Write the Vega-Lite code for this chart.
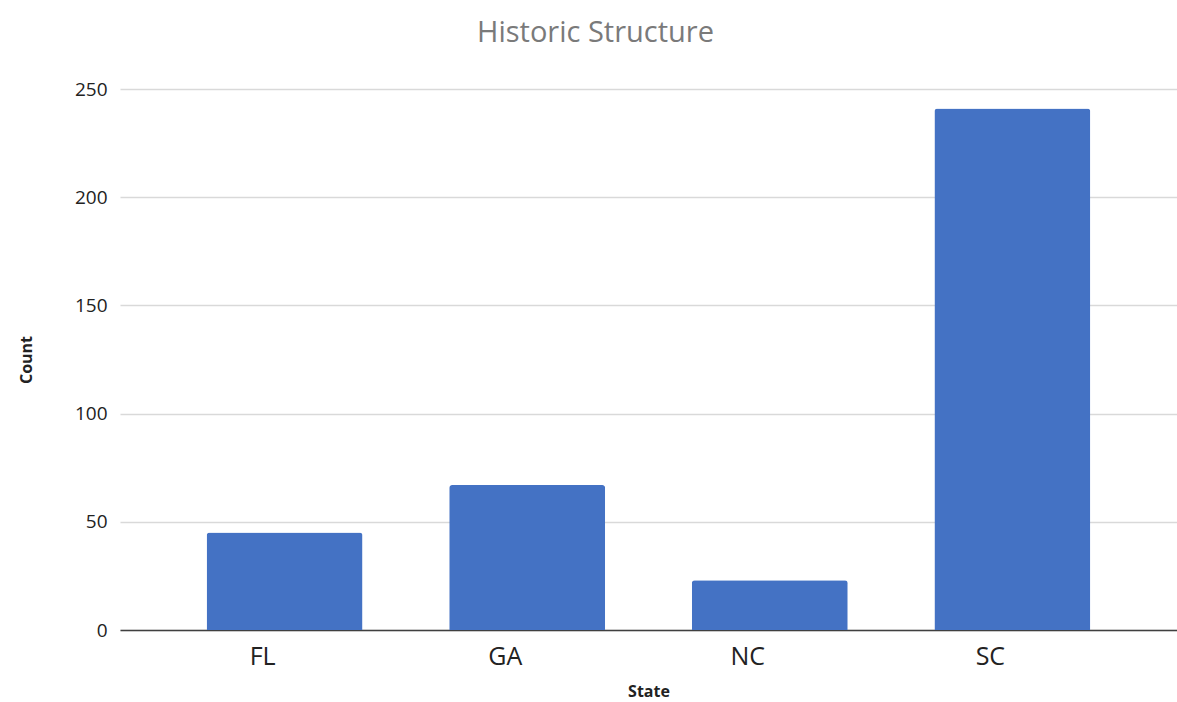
{
  "$schema": "https://vega.github.io/schema/vega-lite/v6.json",
  "autosize": "none",
  "padding": {"left": 120, "top": 89, "right": 0, "bottom": 72},
  "width": 1057,
  "height": 541,
  "background": "white",
  "title": {
    "text": "Historic Structure",
    "font": "Open Sans",
    "fontSize": 29,
    "fontWeight": "normal",
    "color": "#7a7a7a",
    "anchor": "middle",
    "dx": -53,
    "offset": 32
  },
  "data": {
    "values": [
      {"State": "FL", "Count": 45},
      {"State": "GA", "Count": 67},
      {"State": "NC", "Count": 23},
      {"State": "SC", "Count": 241}
    ]
  },
  "mark": {"type": "bar", "color": "#4472C4", "cornerRadiusEnd": 3},
  "encoding": {
    "x": {
      "field": "State",
      "type": "nominal",
      "sort": null,
      "scale": {"paddingInner": 0.357, "paddingOuter": 0.357},
      "axis": {
        "title": "State",
        "titleFont": "Open Sans",
        "titleFontSize": 16,
        "titleFontWeight": "bold",
        "titleColor": "#222222",
        "titlePadding": 14,
        "labelAngle": 0,
        "labelFont": "Open Sans",
        "labelFontSize": 25,
        "labelColor": "#222222",
        "labelPadding": 14,
        "labelOffset": -22,
        "ticks": false,
        "domainColor": "#404040",
        "domainWidth": 1.5
      }
    },
    "y": {
      "field": "Count",
      "type": "quantitative",
      "scale": {"domain": [0, 250]},
      "axis": {
        "title": "Count",
        "titleFont": "Open Sans",
        "titleFontSize": 16,
        "titleFontWeight": "bold",
        "titleColor": "#222222",
        "titlePadding": 40,
        "values": [0, 50, 100, 150, 200, 250],
        "labelFont": "Open Sans",
        "labelFontSize": 19,
        "labelColor": "#222222",
        "labelPadding": 13,
        "ticks": false,
        "domain": false,
        "gridColor": "#d9d9d9",
        "gridWidth": 1.5
      }
    }
  },
  "config": {"view": {"stroke": null}}
}
